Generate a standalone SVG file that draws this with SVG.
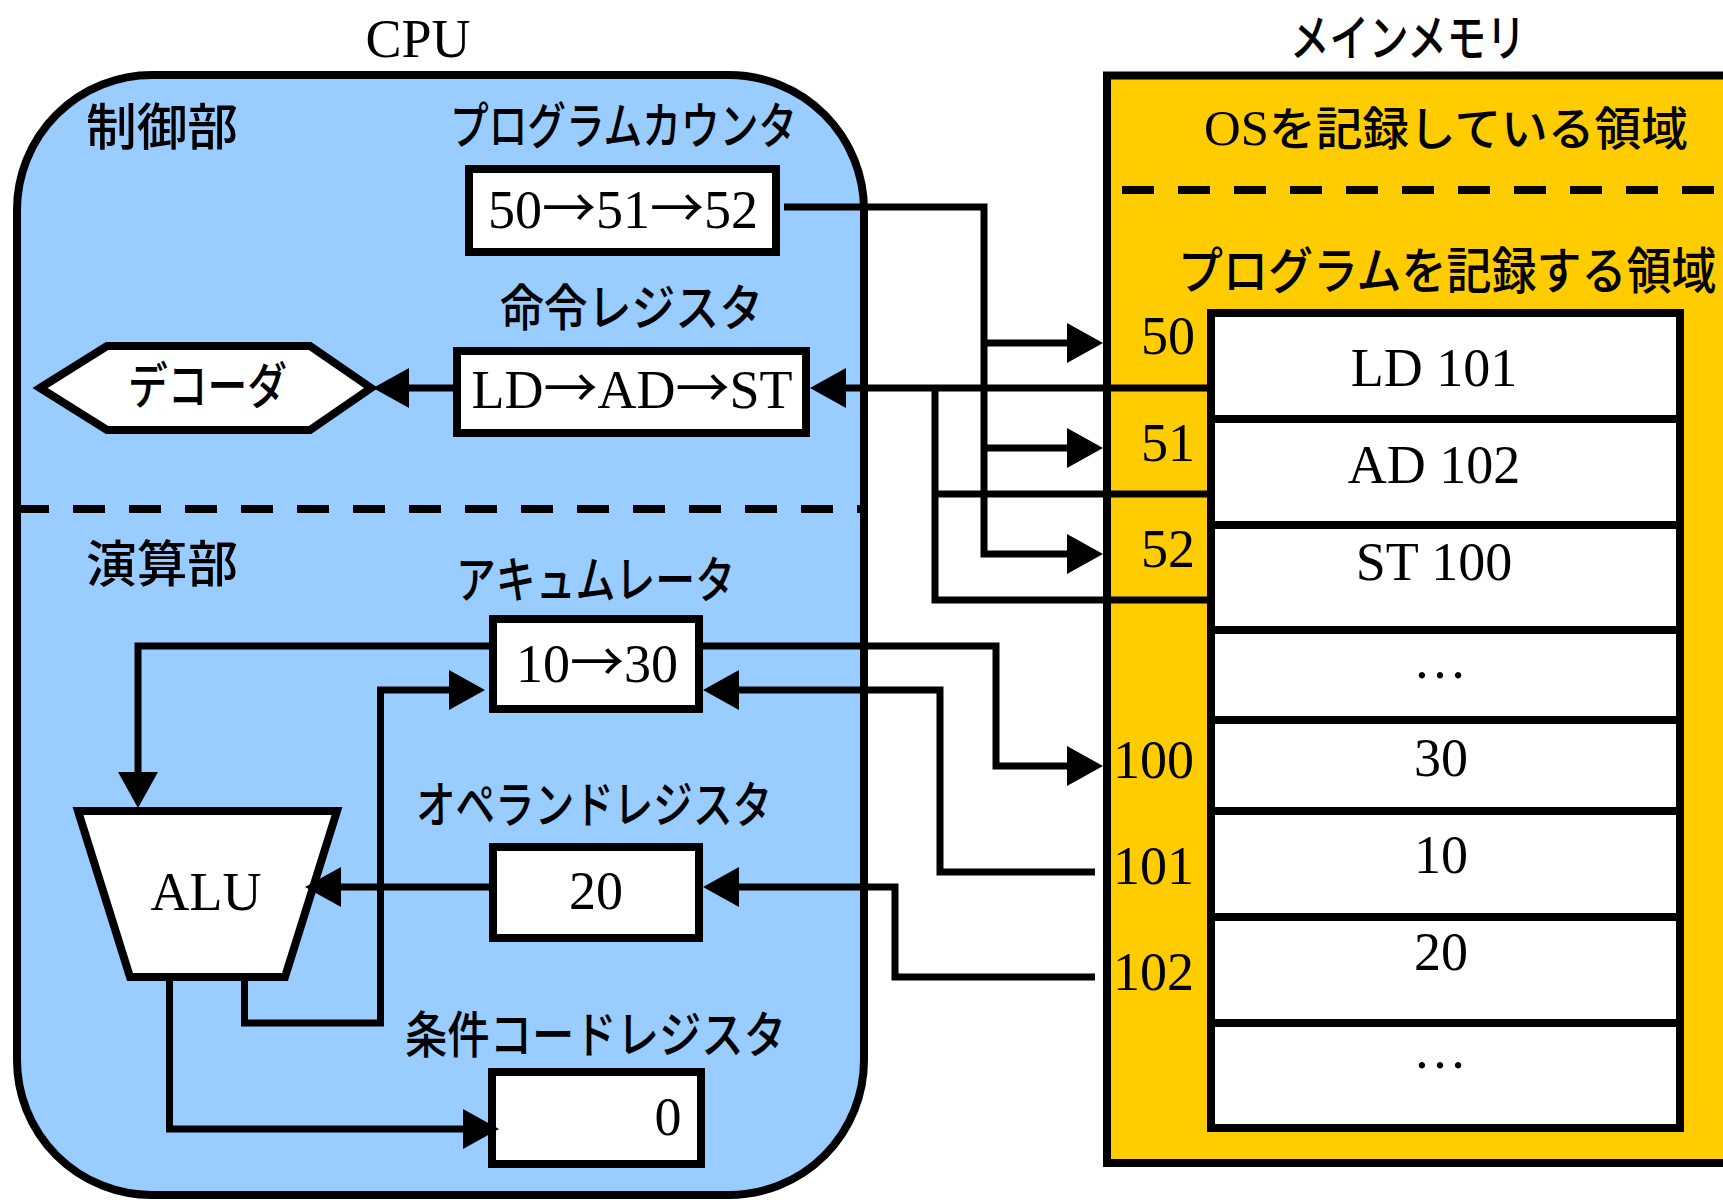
<svg xmlns="http://www.w3.org/2000/svg" width="1723" height="1200" viewBox="0 0 1723 1200">
<defs>
<style>
.lat{font-family:"Liberation Serif","Noto Sans CJK JP",serif;font-size:54px;fill:#000}
.arr{font-family:"Noto Sans CJK JP","DejaVu Sans",sans-serif}
.jp{font-family:"Noto Sans CJK JP","Noto Sans",sans-serif;font-size:50px;font-weight:500;fill:#000}
.mix{font-family:"Liberation Serif","Noto Sans CJK JP",serif;font-size:46px;font-weight:500;fill:#000}
.box{fill:#fff;stroke:#000;stroke-width:8;stroke-linejoin:miter}
.wire{fill:none;stroke:#000;stroke-width:7;stroke-linejoin:miter;stroke-linecap:butt}
.dash{fill:none;stroke:#000;stroke-width:8;stroke-dasharray:32 24}
.sep{stroke:#000;stroke-width:8}
</style>
<marker id="ah" markerUnits="userSpaceOnUse" markerWidth="36" markerHeight="40" refX="16" refY="20" orient="auto" viewBox="0 0 36 40">
<path d="M0,0 L36,20 L0,40 Z" fill="#000"/>
</marker>
</defs>
<rect width="1723" height="1200" fill="#fff"/>

<g id="cpu">
<rect x="17" y="75" width="847" height="1120" rx="135" ry="135" fill="#99CCFF" stroke="#000" stroke-width="8"/>
<text class="lat" x="418" y="57" text-anchor="middle">CPU</text>
<line class="dash" x1="17" y1="509" x2="864" y2="509"/>
<text class="jp" x="86" y="145" textLength="152" lengthAdjust="spacingAndGlyphs">制御部</text>
<text class="jp" x="86" y="582" textLength="152" lengthAdjust="spacingAndGlyphs">演算部</text>
</g>

<g id="memory">
<rect x="1107" y="75.5" width="700" height="1087.5" fill="#FFCC00" stroke="#000" stroke-width="8"/>
<text class="mix" x="1204" y="145" textLength="484" lengthAdjust="spacingAndGlyphs"><tspan font-size="50" font-weight="400">OS</tspan>を記録している領域</text>
<line class="dash" x1="1122" y1="190" x2="1740" y2="190"/>
<text class="jp" transform="translate(1178,289) scale(0.9,1)" x="0" y="0" font-size="52">プログラムを記録する領域</text>
<text class="jp" transform="translate(1290,56) scale(0.79,1)" x="0" y="0" font-size="44">メインメモリ</text>
</g>

<g id="memory-cells">
<rect class="box" x="1211" y="313" width="469" height="815"/>
<line class="sep" x1="1211" y1="419" x2="1680" y2="419"/>
<line class="sep" x1="1211" y1="525" x2="1680" y2="525"/>
<line class="sep" x1="1211" y1="630" x2="1680" y2="630"/>
<line class="sep" x1="1211" y1="720" x2="1680" y2="720"/>
<line class="sep" x1="1211" y1="811" x2="1680" y2="811"/>
<line class="sep" x1="1211" y1="917" x2="1680" y2="917"/>
<line class="sep" x1="1211" y1="1023" x2="1680" y2="1023"/>
<text class="lat" x="1434" y="386" text-anchor="middle">LD 101</text>
<text class="lat" x="1434" y="483" text-anchor="middle">AD 102</text>
<text class="lat" x="1434" y="580" text-anchor="middle">ST 100</text>
<text class="lat" x="1440" y="678" text-anchor="middle">…</text>
<text class="lat" x="1441" y="776" text-anchor="middle">30</text>
<text class="lat" x="1441" y="873" text-anchor="middle">10</text>
<text class="lat" x="1441" y="970" text-anchor="middle">20</text>
<text class="lat" x="1440" y="1068" text-anchor="middle">…</text>
</g>

<g id="addresses">
<text class="lat" x="1195" y="354" text-anchor="end">50</text>
<text class="lat" x="1195" y="461" text-anchor="end">51</text>
<text class="lat" x="1195" y="567" text-anchor="end">52</text>
<text class="lat" x="1194" y="778" text-anchor="end">100</text>
<text class="lat" x="1194" y="884" text-anchor="end">101</text>
<text class="lat" x="1194" y="990" text-anchor="end">102</text>
</g>

<g id="program-counter">
<text class="jp" x="450" y="144" textLength="347" lengthAdjust="spacingAndGlyphs">プログラムカウンタ</text>
<rect class="box" x="469" y="169" width="307" height="83"/>
<text class="lat" x="623" y="228" text-anchor="middle">50<tspan class="arr">→</tspan>51<tspan class="arr">→</tspan>52</text>
</g>

<g id="instruction-register">
<text class="jp" x="500" y="326" textLength="263" lengthAdjust="spacingAndGlyphs">命令レジスタ</text>
<rect class="box" x="457" y="351" width="349" height="82"/>
<text class="lat" x="632" y="408" text-anchor="middle">LD<tspan class="arr">→</tspan>AD<tspan class="arr">→</tspan>ST</text>
</g>

<g id="decoder">
<polygon class="box" points="40,388 107,346 310,346 371,388 310,430 107,430"/>
<text class="jp" x="128" y="404" textLength="159" lengthAdjust="spacingAndGlyphs">デコーダ</text>
</g>

<g id="accumulator">
<text class="jp" x="456" y="598" textLength="279" lengthAdjust="spacingAndGlyphs">アキュムレータ</text>
<rect class="box" x="493" y="619" width="206" height="90"/>
<text class="lat" x="597" y="682" text-anchor="middle">10<tspan class="arr">→</tspan>30</text>
</g>

<g id="operand-register">
<text class="jp" x="416" y="823" textLength="356" lengthAdjust="spacingAndGlyphs">オペランドレジスタ</text>
<rect class="box" x="493" y="847" width="206" height="91"/>
<text class="lat" x="596" y="909" text-anchor="middle">20</text>
</g>

<g id="condition-code-register">
<text class="jp" x="405" y="1053" textLength="381" lengthAdjust="spacingAndGlyphs">条件コードレジスタ</text>
<rect class="box" x="492" y="1072" width="209" height="92"/>
<text class="lat" x="668" y="1135" text-anchor="middle">0</text>
</g>

<g id="alu">
<polygon class="box" points="78,811 337,811 285,977 130,977"/>
<text class="lat" x="206" y="910" text-anchor="middle">ALU</text>
</g>

<g id="connectors">
<path class="wire" d="M784,207 H984 V554 H1083" marker-end="url(#ah)"/>
<path class="wire" d="M984,343 H1083" marker-end="url(#ah)"/>
<path class="wire" d="M984,448 H1083" marker-end="url(#ah)"/>
<path class="wire" d="M1211,388 H830" marker-end="url(#ah)"/>
<path class="wire" d="M1211,600 H935 V388"/>
<path class="wire" d="M1211,494 H935"/>
<path class="wire" d="M453,388 H393" marker-end="url(#ah)"/>
<path class="wire" d="M697,646 H996 V766 H1083" marker-end="url(#ah)"/>
<path class="wire" d="M1095,872 H940 V690 H723" marker-end="url(#ah)"/>
<path class="wire" d="M1095,977 H895 V887 H723" marker-end="url(#ah)"/>
<path class="wire" d="M489,646 H138 V788" marker-end="url(#ah)"/>
<path class="wire" d="M489,887 H325" marker-end="url(#ah)"/>
<path class="wire" d="M244.5,977 V1023 H380.5 V690 H465" marker-end="url(#ah)"/>
<path class="wire" d="M169.5,977 V1129 H479" marker-end="url(#ah)"/>
</g>
</svg>
